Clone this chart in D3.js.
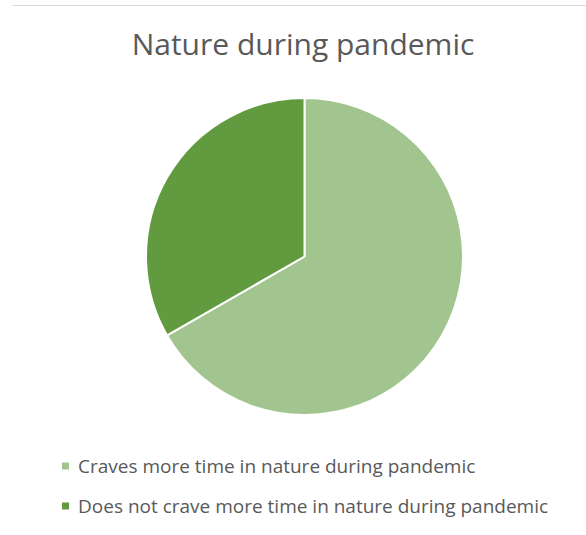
<!DOCTYPE html>
<html>
<head>
<meta charset="utf-8">
<script src="https://cdn.jsdelivr.net/npm/d3@7"></script>
<style>
  html, body { margin: 0; padding: 0; background: #fff; }
  text { font-family: "Open Sans", "Noto Sans", sans-serif; fill: #595959; }
</style>
</head>
<body>
<div id="chart"></div>
<script>
const title = "Nature during pandemic";
const categories = ["Craves more time in nature during pandemic", "Does not crave more time in nature during pandemic"];
const values = [66.7, 33.3];
const colors = ["#a2c48f", "#629b3f"];

const width = 586, height = 535;
const cx = 304.5, cy = 256.5, radius = 158.5;

const svg = d3.select("#chart")
  .append("svg")
  .attr("width", width)
  .attr("height", height);

// faint chart frame line at top
svg.append("line")
  .attr("x1", 12).attr("x2", width)
  .attr("y1", 5.5).attr("y2", 5.5)
  .style("stroke", "#d9d9d9")
  .style("stroke-width", 1);

svg.append("text")
  .attr("x", 303)
  .attr("y", 54.5)
  .attr("text-anchor", "middle")
  .style("font-size", "30px")
  .text(title);

const data = categories.map((c, i) => ({ name: c, value: values[i], color: colors[i] }));

const pie = d3.pie().sort(null).value((d) => d.value);
const arc = d3.arc().innerRadius(0).outerRadius(radius);

const g = svg.append("g").attr("transform", "translate(" + cx + "," + cy + ")");
g.selectAll("path")
  .data(pie(data))
  .enter()
  .append("path")
  .attr("d", arc)
  .style("fill", (d) => d.data.color)
  .style("stroke", "#fff")
  .style("stroke-width", 2);

// legend
const legend = svg.selectAll(".legend")
  .data(data)
  .enter()
  .append("g")
  .attr("class", "legend")
  .attr("transform", (d, i) => "translate(62," + (466 + i * 40) + ")");

legend.append("rect")
  .attr("x", 0).attr("y", -3.5)
  .attr("width", 7).attr("height", 7)
  .style("fill", (d) => d.color);

legend.append("text")
  .attr("x", 16)
  .attr("y", 0)
  .attr("dy", "0.35em")
  .style("font-size", "19px")
  .text((d) => d.name);
</script>
</body>
</html>
